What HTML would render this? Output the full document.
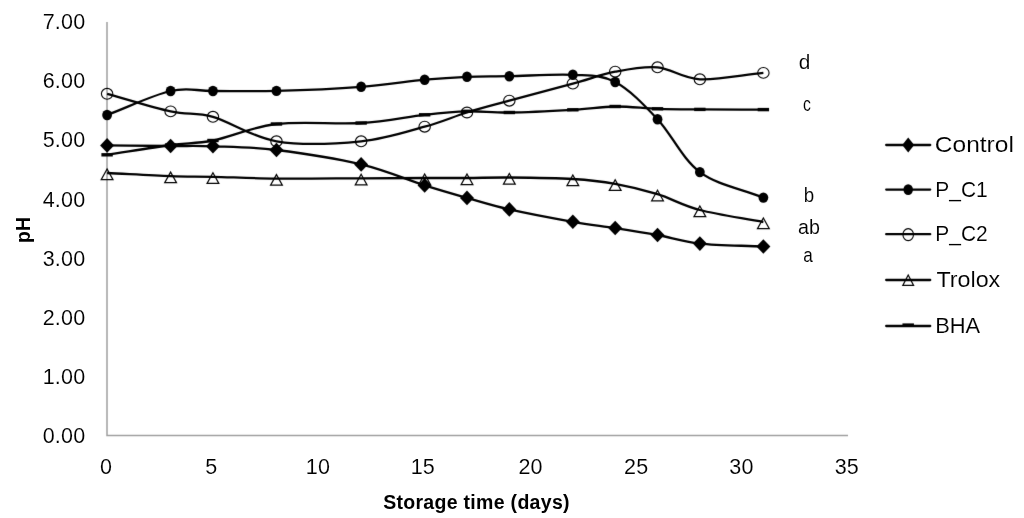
<!DOCTYPE html>
<html><head><meta charset="utf-8"><style>
html,body{margin:0;padding:0;background:#fff;}
svg{display:block;will-change:transform;}
.t{font-family:"Liberation Sans",sans-serif;font-size:20px;fill:#000;stroke:#fff;stroke-width:0.1px;}
.ax{font-size:21.5px;letter-spacing:0.25px;}
.lg{font-size:22.5px;}
.tb{font-family:"Liberation Sans",sans-serif;font-size:19.5px;font-weight:bold;fill:#000;}
</style></head><body>
<svg width="1024" height="518" viewBox="0 0 1024 518">
<defs><filter id="bl" color-interpolation-filters="sRGB" filterUnits="userSpaceOnUse" x="0" y="0" width="1024" height="518"><feConvolveMatrix order="3" kernelMatrix="0.00524 0.06192 0.00524 0.06192 0.73137 0.06192 0.00524 0.06192 0.00524" divisor="1" edgeMode="duplicate" preserveAlpha="false"/></filter></defs>
<rect width="1024" height="518" fill="#fff"/>
<g filter="url(#bl)">
<rect width="1024" height="518" fill="#fff"/>
<path d="M107,22 V435.5 H848" fill="none" stroke="#a0a0a0" stroke-width="1.5"/>
<path d="M107.10,173.00 C128.27,174.03 152.97,175.47 170.61,176.10 C188.25,176.73 195.31,176.38 212.95,176.80 C230.59,177.22 251.76,178.35 276.46,178.60 C301.16,178.85 336.44,178.40 361.14,178.30 C385.84,178.20 407.01,178.05 424.65,178.00 C442.29,177.95 452.88,178.08 466.99,178.00 C481.10,177.92 491.69,177.33 509.33,177.50 C526.97,177.67 555.20,177.95 572.84,179.00 C590.48,180.05 601.07,181.27 615.18,183.80 C629.29,186.33 643.41,189.83 657.52,194.20 C671.63,198.57 682.22,205.37 699.86,210.00 C717.50,214.63 742.20,218.00 763.37,222.00" fill="none" stroke="#000" stroke-width="2.3" stroke-linejoin="round"/>
<path d="M107.10,154.80 C128.27,151.53 152.97,147.38 170.61,145.00 C188.25,142.62 195.31,144.00 212.95,140.50 C230.59,137.00 251.76,126.92 276.46,124.00 C301.16,121.08 336.44,124.53 361.14,123.00 C385.84,121.47 407.01,116.75 424.65,114.80 C442.29,112.85 452.88,111.68 466.99,111.30 C481.10,110.92 491.69,112.75 509.33,112.50 C526.97,112.25 555.20,110.80 572.84,109.80 C590.48,108.80 601.07,106.67 615.18,106.50 C629.29,106.33 643.41,108.32 657.52,108.80 C671.63,109.28 682.22,109.27 699.86,109.40 C717.50,109.53 742.20,109.53 763.37,109.60" fill="none" stroke="#000" stroke-width="2.3" stroke-linejoin="round"/>
<path d="M107.10,145.40 C128.27,145.60 152.97,145.85 170.61,146.00 C188.25,146.15 195.31,145.63 212.95,146.30 C230.59,146.97 251.76,146.98 276.46,150.00 C301.16,153.02 336.44,158.50 361.14,164.40 C385.84,170.30 407.01,179.82 424.65,185.40 C442.29,190.98 452.88,193.90 466.99,197.90 C481.10,201.90 491.69,205.42 509.33,209.40 C526.97,213.38 555.20,218.70 572.84,221.80 C590.48,224.90 601.07,225.80 615.18,228.00 C629.29,230.20 643.41,232.40 657.52,235.00 C671.63,237.60 682.22,241.68 699.86,243.60 C717.50,245.52 742.20,245.53 763.37,246.50" fill="none" stroke="#000" stroke-width="2.3" stroke-linejoin="round"/>
<path d="M107.10,93.80 C128.27,99.67 152.97,107.57 170.61,111.40 C188.25,115.23 195.31,111.82 212.95,116.80 C230.59,121.78 251.76,137.22 276.46,141.30 C301.16,145.38 336.44,143.73 361.14,141.30 C385.84,138.87 407.01,131.50 424.65,126.70 C442.29,121.90 452.88,116.83 466.99,112.50 C481.10,108.17 491.69,105.52 509.33,100.70 C526.97,95.88 555.20,88.43 572.84,83.60 C590.48,78.77 601.07,74.42 615.18,71.70 C629.29,68.98 643.41,66.03 657.52,67.30 C671.63,68.57 682.22,78.37 699.86,79.30 C717.50,80.23 742.20,75.03 763.37,72.90" fill="none" stroke="#000" stroke-width="2.3" stroke-linejoin="round"/>
<path d="M107.10,115.00 C128.27,107.00 152.97,95.00 170.61,91.00 C188.25,87.00 195.31,91.02 212.95,91.00 C230.59,90.98 251.76,91.60 276.46,90.90 C301.16,90.20 336.44,88.67 361.14,86.80 C385.84,84.93 407.01,81.37 424.65,79.70 C442.29,78.03 452.88,77.38 466.99,76.80 C481.10,76.22 491.69,76.53 509.33,76.20 C526.97,75.87 555.20,73.83 572.84,74.80 C590.48,75.77 601.07,74.60 615.18,82.00 C629.29,89.40 643.41,104.18 657.52,119.20 C671.63,134.22 682.22,159.03 699.86,172.10 C717.50,185.17 742.20,189.10 763.37,197.60" fill="none" stroke="#000" stroke-width="2.3" stroke-linejoin="round"/>
<path d="M107.10,169.00 L113.00,179.60 L101.20,179.60Z" fill="none" stroke="#000" stroke-width="1.2" stroke-linejoin="miter"/>
<path d="M170.61,172.10 L176.51,182.70 L164.71,182.70Z" fill="none" stroke="#000" stroke-width="1.2" stroke-linejoin="miter"/>
<path d="M212.95,172.80 L218.85,183.40 L207.05,183.40Z" fill="none" stroke="#000" stroke-width="1.2" stroke-linejoin="miter"/>
<path d="M276.46,174.60 L282.36,185.20 L270.56,185.20Z" fill="none" stroke="#000" stroke-width="1.2" stroke-linejoin="miter"/>
<path d="M361.14,174.30 L367.04,184.90 L355.24,184.90Z" fill="none" stroke="#000" stroke-width="1.2" stroke-linejoin="miter"/>
<path d="M424.65,174.00 L430.55,184.60 L418.75,184.60Z" fill="none" stroke="#000" stroke-width="1.2" stroke-linejoin="miter"/>
<path d="M466.99,174.00 L472.89,184.60 L461.09,184.60Z" fill="none" stroke="#000" stroke-width="1.2" stroke-linejoin="miter"/>
<path d="M509.33,173.50 L515.23,184.10 L503.43,184.10Z" fill="none" stroke="#000" stroke-width="1.2" stroke-linejoin="miter"/>
<path d="M572.84,175.00 L578.74,185.60 L566.94,185.60Z" fill="none" stroke="#000" stroke-width="1.2" stroke-linejoin="miter"/>
<path d="M615.18,179.80 L621.08,190.40 L609.28,190.40Z" fill="none" stroke="#000" stroke-width="1.2" stroke-linejoin="miter"/>
<path d="M657.52,190.20 L663.42,200.80 L651.62,200.80Z" fill="none" stroke="#000" stroke-width="1.2" stroke-linejoin="miter"/>
<path d="M699.86,206.00 L705.76,216.60 L693.96,216.60Z" fill="none" stroke="#000" stroke-width="1.2" stroke-linejoin="miter"/>
<path d="M763.37,218.00 L769.27,228.60 L757.47,228.60Z" fill="none" stroke="#000" stroke-width="1.2" stroke-linejoin="miter"/>
<rect x="101.40" y="153.10" width="11.40" height="3.40" fill="#000"/>
<rect x="164.91" y="143.30" width="11.40" height="3.40" fill="#000"/>
<rect x="207.25" y="138.80" width="11.40" height="3.40" fill="#000"/>
<rect x="270.76" y="122.30" width="11.40" height="3.40" fill="#000"/>
<rect x="355.44" y="121.30" width="11.40" height="3.40" fill="#000"/>
<rect x="418.95" y="113.10" width="11.40" height="3.40" fill="#000"/>
<rect x="461.29" y="109.60" width="11.40" height="3.40" fill="#000"/>
<rect x="503.63" y="110.80" width="11.40" height="3.40" fill="#000"/>
<rect x="567.14" y="108.10" width="11.40" height="3.40" fill="#000"/>
<rect x="609.48" y="104.80" width="11.40" height="3.40" fill="#000"/>
<rect x="651.82" y="107.10" width="11.40" height="3.40" fill="#000"/>
<rect x="694.16" y="107.70" width="11.40" height="3.40" fill="#000"/>
<rect x="757.67" y="107.90" width="11.40" height="3.40" fill="#000"/>
<path d="M107.10,138.10 L114.10,145.40 L107.10,152.70 L100.10,145.40Z" fill="#000"/>
<path d="M170.61,138.70 L177.61,146.00 L170.61,153.30 L163.61,146.00Z" fill="#000"/>
<path d="M212.95,139.00 L219.95,146.30 L212.95,153.60 L205.95,146.30Z" fill="#000"/>
<path d="M276.46,142.70 L283.46,150.00 L276.46,157.30 L269.46,150.00Z" fill="#000"/>
<path d="M361.14,157.10 L368.14,164.40 L361.14,171.70 L354.14,164.40Z" fill="#000"/>
<path d="M424.65,178.10 L431.65,185.40 L424.65,192.70 L417.65,185.40Z" fill="#000"/>
<path d="M466.99,190.60 L473.99,197.90 L466.99,205.20 L459.99,197.90Z" fill="#000"/>
<path d="M509.33,202.10 L516.33,209.40 L509.33,216.70 L502.33,209.40Z" fill="#000"/>
<path d="M572.84,214.50 L579.84,221.80 L572.84,229.10 L565.84,221.80Z" fill="#000"/>
<path d="M615.18,220.70 L622.18,228.00 L615.18,235.30 L608.18,228.00Z" fill="#000"/>
<path d="M657.52,227.70 L664.52,235.00 L657.52,242.30 L650.52,235.00Z" fill="#000"/>
<path d="M699.86,236.30 L706.86,243.60 L699.86,250.90 L692.86,243.60Z" fill="#000"/>
<path d="M763.37,239.20 L770.37,246.50 L763.37,253.80 L756.37,246.50Z" fill="#000"/>
<ellipse cx="107.10" cy="93.80" rx="5.7" ry="5.4" fill="none" stroke="#000" stroke-width="1.1"/>
<ellipse cx="170.61" cy="111.40" rx="5.7" ry="5.4" fill="none" stroke="#000" stroke-width="1.1"/>
<ellipse cx="212.95" cy="116.80" rx="5.7" ry="5.4" fill="none" stroke="#000" stroke-width="1.1"/>
<ellipse cx="276.46" cy="141.30" rx="5.7" ry="5.4" fill="none" stroke="#000" stroke-width="1.1"/>
<ellipse cx="361.14" cy="141.30" rx="5.7" ry="5.4" fill="none" stroke="#000" stroke-width="1.1"/>
<ellipse cx="424.65" cy="126.70" rx="5.7" ry="5.4" fill="none" stroke="#000" stroke-width="1.1"/>
<ellipse cx="466.99" cy="112.50" rx="5.7" ry="5.4" fill="none" stroke="#000" stroke-width="1.1"/>
<ellipse cx="509.33" cy="100.70" rx="5.7" ry="5.4" fill="none" stroke="#000" stroke-width="1.1"/>
<ellipse cx="572.84" cy="83.60" rx="5.7" ry="5.4" fill="none" stroke="#000" stroke-width="1.1"/>
<ellipse cx="615.18" cy="71.70" rx="5.7" ry="5.4" fill="none" stroke="#000" stroke-width="1.1"/>
<ellipse cx="657.52" cy="67.30" rx="5.7" ry="5.4" fill="none" stroke="#000" stroke-width="1.1"/>
<ellipse cx="699.86" cy="79.30" rx="5.7" ry="5.4" fill="none" stroke="#000" stroke-width="1.1"/>
<ellipse cx="763.37" cy="72.90" rx="5.7" ry="5.4" fill="none" stroke="#000" stroke-width="1.1"/>
<ellipse cx="107.10" cy="115.00" rx="4.9" ry="5.2" fill="#000"/>
<ellipse cx="170.61" cy="91.00" rx="4.9" ry="5.2" fill="#000"/>
<ellipse cx="212.95" cy="91.00" rx="4.9" ry="5.2" fill="#000"/>
<ellipse cx="276.46" cy="90.90" rx="4.9" ry="5.2" fill="#000"/>
<ellipse cx="361.14" cy="86.80" rx="4.9" ry="5.2" fill="#000"/>
<ellipse cx="424.65" cy="79.70" rx="4.9" ry="5.2" fill="#000"/>
<ellipse cx="466.99" cy="76.80" rx="4.9" ry="5.2" fill="#000"/>
<ellipse cx="509.33" cy="76.20" rx="4.9" ry="5.2" fill="#000"/>
<ellipse cx="572.84" cy="74.80" rx="4.9" ry="5.2" fill="#000"/>
<ellipse cx="615.18" cy="82.00" rx="4.9" ry="5.2" fill="#000"/>
<ellipse cx="657.52" cy="119.20" rx="4.9" ry="5.2" fill="#000"/>
<ellipse cx="699.86" cy="172.10" rx="4.9" ry="5.2" fill="#000"/>
<ellipse cx="763.37" cy="197.60" rx="4.9" ry="5.2" fill="#000"/>
<path d="M886.2,145.0 H930.2" stroke="#000" stroke-width="2.3" stroke-linecap="round"/>
<path d="M908.20,137.50 L914.20,145.00 L908.20,152.50 L902.20,145.00Z" fill="#000"/>
<path d="M886.2,189.6 H930.2" stroke="#000" stroke-width="2.3" stroke-linecap="round"/>
<ellipse cx="908.20" cy="189.60" rx="4.75" ry="5.4" fill="#000"/>
<path d="M886.2,234.2 H930.2" stroke="#000" stroke-width="2.3" stroke-linecap="round"/>
<ellipse cx="908.20" cy="234.60" rx="5.3" ry="6.0" fill="none" stroke="#000" stroke-width="1.1"/>
<path d="M886.2,280.0 H930.2" stroke="#000" stroke-width="2.3" stroke-linecap="round"/>
<path d="M908.20,275.00 L913.60,285.40 L902.80,285.40Z" fill="none" stroke="#000" stroke-width="1.2" stroke-linejoin="miter"/>
<path d="M886.2,326.0 H930.2" stroke="#000" stroke-width="2.3" stroke-linecap="round"/>
<rect x="902.45" y="323.40" width="11.50" height="3.20" fill="#000"/>
</g>
<text x="85.5" y="442.80" class="t ax" text-anchor="end">0.00</text>
<text x="85.5" y="383.73" class="t ax" text-anchor="end">1.00</text>
<text x="85.5" y="324.66" class="t ax" text-anchor="end">2.00</text>
<text x="85.5" y="265.59" class="t ax" text-anchor="end">3.00</text>
<text x="85.5" y="206.52" class="t ax" text-anchor="end">4.00</text>
<text x="85.5" y="147.45" class="t ax" text-anchor="end">5.00</text>
<text x="85.5" y="88.38" class="t ax" text-anchor="end">6.00</text>
<text x="85.5" y="29.31" class="t ax" text-anchor="end">7.00</text>
<text x="106.00" y="473.5" class="t ax" text-anchor="middle">0</text>
<text x="211.45" y="473.5" class="t ax" text-anchor="middle">5</text>
<text x="318.00" y="473.5" class="t ax" text-anchor="middle">10</text>
<text x="422.85" y="473.5" class="t ax" text-anchor="middle">15</text>
<text x="530.60" y="473.5" class="t ax" text-anchor="middle">20</text>
<text x="636.25" y="473.5" class="t ax" text-anchor="middle">25</text>
<text x="741.50" y="473.5" class="t ax" text-anchor="middle">30</text>
<text x="846.85" y="473.5" class="t ax" text-anchor="middle">35</text>
<text x="798.72" y="69.3" class="t" textLength="11.59" lengthAdjust="spacingAndGlyphs">d</text>
<text x="803.00" y="110.6" class="t" textLength="7.85" lengthAdjust="spacingAndGlyphs">c</text>
<text x="803.72" y="202.4" class="t" textLength="10.43" lengthAdjust="spacingAndGlyphs">b</text>
<text x="798.12" y="233.7" class="t" textLength="21.91" lengthAdjust="spacingAndGlyphs">ab</text>
<text x="803.24" y="262.2" class="t" textLength="9.54" lengthAdjust="spacingAndGlyphs">a</text>
<text x="934.84" y="152.20" class="t lg" textLength="79.01" lengthAdjust="spacingAndGlyphs">Control</text>
<text x="935.34" y="196.80" class="t lg" textLength="52.37" lengthAdjust="spacingAndGlyphs">P_C1</text>
<text x="935.34" y="241.40" class="t lg" textLength="52.37" lengthAdjust="spacingAndGlyphs">P_C2</text>
<text x="936.50" y="287.20" class="t lg" textLength="63.72" lengthAdjust="spacingAndGlyphs">Trolox</text>
<text x="935.20" y="333.20" class="t lg" textLength="44.96" lengthAdjust="spacingAndGlyphs">BHA</text>
<text x="476.5" y="509.4" class="tb" text-anchor="middle" style="letter-spacing:0.3px">Storage time (days)</text>
<text transform="translate(30,230) rotate(-90)" x="0" y="0" class="tb" text-anchor="middle">pH</text>
</svg>
</body></html>
